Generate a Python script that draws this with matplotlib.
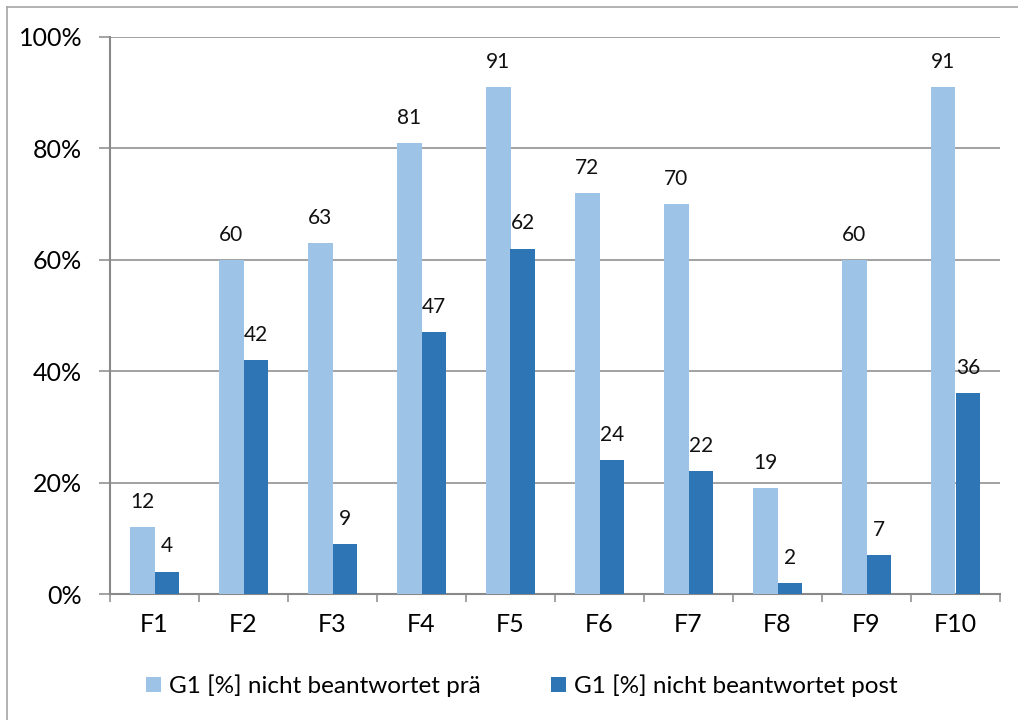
import numpy as np
import matplotlib.pyplot as plt
from matplotlib.lines import Line2D
from matplotlib.ticker import FuncFormatter, FixedLocator

plt.rcParams['font.family'] = ['Lato', 'DejaVu Sans']

categories = ['F1', 'F2', 'F3', 'F4', 'F5', 'F6', 'F7', 'F8', 'F9', 'F10']
pre = [12, 60, 63, 81, 91, 72, 70, 19, 60, 91]
post = [4, 42, 9, 47, 62, 24, 22, 2, 7, 36]
series_names = ['G1 [%] nicht beantwortet prä', 'G1 [%] nicht beantwortet post']
yticks = [0, 20, 40, 60, 80, 100]

c_pre = '#9dc3e6'
c_post = '#2e75b6'
grid_c = '#898989'

fig = plt.figure(figsize=(10.18, 7.2), dpi=100)
ax = fig.add_axes([110/1018, 126/720, 890/1018, 557/720])

x = np.arange(len(categories))
w = 0.28
b1 = ax.bar(x - w/2, pre, w, color=c_pre, label=series_names[0], zorder=3)
b2 = ax.bar(x + w/2, post, w, color=c_post, label=series_names[1], zorder=3)

for bars, vals in ((b1, pre), (b2, post)):
    for r, v in zip(bars, vals):
        ax.annotate(f'{v}', (r.get_x() + r.get_width()/2, v),
                    xytext=(0, 11), textcoords='offset points',
                    ha='center', va='bottom', fontsize=15, color='#111111')

ax.set_xlim(-0.5, len(categories) - 0.5)
ax.set_ylim(0, 100)
ax.set_yticks(yticks)
ax.yaxis.set_major_formatter(FuncFormatter(lambda v, p: f'{v:.0f}%'))
ax.set_xticks(x)
ax.set_xticklabels(categories)
ax.xaxis.set_minor_locator(FixedLocator(np.arange(-0.5, len(categories), 1)))

ax.grid(axis='y', color=grid_c, linewidth=1.1, zorder=0)
for s in ('top', 'right'):
    ax.spines[s].set_visible(False)
for s in ('left', 'bottom'):
    ax.spines[s].set_color(grid_c)
    ax.spines[s].set_linewidth(1.5)

ax.tick_params(axis='y', length=8, width=1.1, color=grid_c, labelsize=18, pad=12)
ax.tick_params(axis='x', which='major', length=0, labelsize=18, pad=14)
ax.tick_params(axis='x', which='minor', length=6, width=1.1, color=grid_c)

fig.legend(loc='center', bbox_to_anchor=(522/1018, 34/720), ncol=2, frameon=False,
           fontsize=17.5, handlelength=0.6, handleheight=0.6, handletextpad=0.35,
           columnspacing=2.9)

# chart area border
fig.add_artist(Line2D([7/1018, 1], [1 - 7/720, 1 - 7/720], color='#a6a6a6', lw=1.2))
fig.add_artist(Line2D([7/1018, 7/1018], [0, 1 - 7/720], color='#a6a6a6', lw=1.2))

fig.savefig('out.png', dpi=100)
